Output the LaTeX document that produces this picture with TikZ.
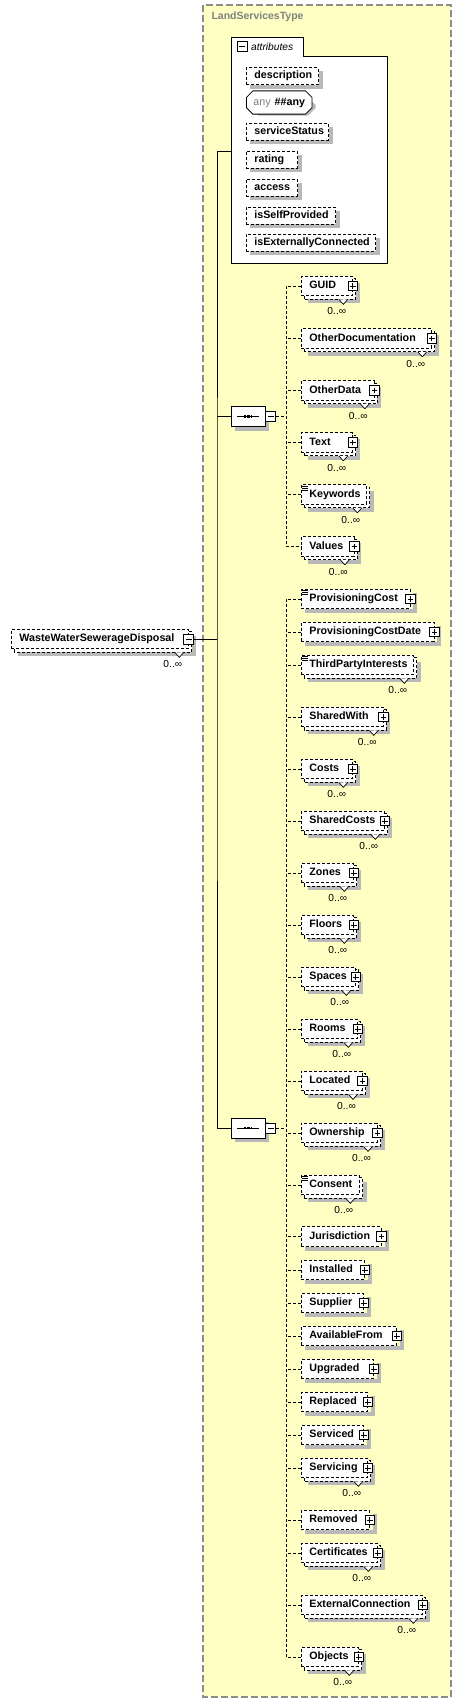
\documentclass[tikz,border=0pt]{standalone}
\usepackage{fontspec}
\setmainfont{Liberation Sans}
\usepackage{tikz}
\usetikzlibrary{shapes.misc,calc}
\pgfdeclarelayer{typelayer}
\pgfdeclarelayer{shadelayer}
\pgfsetlayers{typelayer,shadelayer,main}
\definecolor{typebg}{RGB}{255,255,196}
\definecolor{typeline}{RGB}{140,140,140}
\definecolor{dropgray}{RGB}{185,185,185}
\definecolor{anygray}{RGB}{128,128,128}

\begin{document}
\begin{tikzpicture}[x=1pt,y=-1pt,
  elem/.style={draw,dash pattern=on 3pt off 2pt,line width=0.8pt,fill=white,anchor=west,
    minimum height=19.5pt,inner xsep=8pt,inner ysep=0pt,text height=8pt,text depth=2.5pt,
    align=left,font=\fontsize{10.7}{12}\selectfont\bfseries},
  single/.style={elem},
  multi/.style={elem,label={[chev]south east:},label={[mult]south east:0..∞}},
  backbox/.style={fill=white,draw=black,line width=0.8pt,dash pattern=on 3pt off 2pt},
  attr/.style={elem,minimum height=17pt},
  anyshape/.style={chamfered rectangle,chamfered rectangle xsep=3pt,anchor=west,
    minimum height=18pt,minimum width=65pt,inner xsep=4pt},
  anyattr/.style={anyshape,draw,line width=0.8pt,fill=white,
    font=\fontsize{10.7}{12}\selectfont\bfseries},
  plus/.style={label={[plusbox]east:}},
  doc/.style={label={[docicon]north west:}},
  plusbox/.style={draw=black,solid,line width=0.8pt,fill=white,minimum size=9.5pt,
    inner sep=0pt,anchor=center,
    path picture={\draw[solid,line width=0.8pt]
      ([xshift=2pt]path picture bounding box.west) -- ([xshift=-2pt]path picture bounding box.east)
      ([yshift=2pt]path picture bounding box.south) -- ([yshift=-2pt]path picture bounding box.north);}},
  minusbox/.style={draw=black,solid,line width=0.8pt,fill=white,minimum size=10pt,
    inner sep=0pt,anchor=center,
    path picture={\draw[solid,line width=0.8pt]
      ([xshift=2pt]path picture bounding box.west) -- ([xshift=-2pt]path picture bounding box.east);}},
  chev/.style={anchor=north,xshift=-9.5pt,yshift=-3pt,inner sep=0pt,minimum width=9pt,
    minimum height=5pt,
    path picture={\filldraw[solid,fill=white,draw=black,line width=0.7pt]
      (path picture bounding box.north west) -- (path picture bounding box.south)
      -- (path picture bounding box.north east);}},
  mult/.style={anchor=center,xshift=-16pt,yshift=-15pt,inner sep=0pt,
    font=\fontsize{10.2}{12}\selectfont},
  docicon/.style={anchor=north west,xshift=1pt,yshift=-0.5pt,inner sep=0pt,fill=white,
    minimum width=6pt,minimum height=6pt,
    path picture={\draw[solid,line width=0.7pt]
      ([yshift=-0.8pt]path picture bounding box.north west) -- ([yshift=-0.8pt]path picture bounding box.north east)
      (path picture bounding box.west) -- (path picture bounding box.east)
      ([yshift=0.8pt]path picture bounding box.south west) -- ([yshift=0.8pt]path picture bounding box.south east);}},
  seqshape/.style={chamfered rectangle,chamfered rectangle xsep=5pt,minimum width=34pt,
    minimum height=20pt,inner sep=0pt},
  seq/.style={seqshape,draw=black,line width=0.8pt,fill=white,
    path picture={\draw[line width=0.8pt]
      ([xshift=6pt]path picture bounding box.west) -- ([xshift=-6pt]path picture bounding box.east);
      \draw[line width=2.4pt,dash pattern=on 2.4pt off 1.3pt]
      ([xshift=-4.4pt]path picture bounding box.center) -- ([xshift=4.4pt]path picture bounding box.center);}},
  dropring/.style={draw=dropgray,fill=dropgray,line width=4pt},
  dropline/.style={draw=dropgray,line width=4pt,line cap=butt,line join=miter},
  conn/.style={draw,line width=0.9pt},
  dconn/.style={draw,line width=0.8pt,dash pattern=on 3pt off 2pt}]

  \useasboundingbox (0,0) rectangle (462,1703);

  % complex type and attributes frame
  \begin{pgfonlayer}{typelayer}
    \filldraw[fill=typebg,draw=typeline,line width=1.3pt,dash pattern=on 7pt off 3pt]
      (203,5) rectangle (451,1697);
    \filldraw[fill=white,draw=black,line width=0.9pt]
      (231,263) -- (231,37) -- (303,37) -- (303,56) -- (387,56) -- (387,263) -- cycle;
  \end{pgfonlayer}
  \node[anchor=west,text=anygray,font=\fontsize{10.5}{12}\selectfont\bfseries] (typetitle)
    at (208,17) {LandServicesType};

  % attributes
  \node[minusbox] (attrminus) at (242,46.5) {};
  \node[anchor=west,inner sep=0pt,font=\fontsize{10.2}{12}\selectfont\itshape] (attrtitle)
    at (251,46.5) {attributes};
  \node[attr,text width=56pt] (description) at (246,76) {description};
  \node[anyattr] (anyattr) at (246,102.5) {\textcolor{anygray}{\mdseries any}\hspace{4pt}\#\#any};
  \node[attr,text width=66pt] (servicestatus) at (246,131.5) {serviceStatus};
  \node[attr,text width=35pt] (rating) at (246,159.5) {rating};
  \node[attr,text width=35pt] (access) at (246,187.5) {access};
  \node[attr,text width=73pt] (selfprovided) at (246,215.5) {isSelfProvided};
  \node[attr,text width=113pt] (extconnected) at (246,242.5) {isExternallyConnected};
  \coordinate (attrs) at (231,151);

  % root element
  \node[multi,text width=161pt,label={[minusbox,name=rootminus]east:}] (root)
    at (11,639) {WasteWaterSewerageDisposal};

  % sequences
  \node[seq,label={[minusbox,anchor=west,name=seqaminus]east:}] (seqa) at (248,416.5) {};
  \node[seq,label={[minusbox,anchor=west,name=seqbminus]east:}] (seqb) at (248,1128) {};
  \coordinate (bus) at (217,639);
  \coordinate (busa) at (286,416.5);
  \coordinate (busb) at (286,1128);

  % first sequence
  \node[multi,plus,text width=35pt] (guid) at (301,286) {GUID};
  \node[multi,plus,text width=114pt] (otherdoc) at (301,338.5) {OtherDocumentation};
  \node[multi,plus,text width=56.5pt] (otherdata) at (301,390.5) {OtherData};
  \node[multi,plus,text width=35pt] (text) at (301,442.5) {Text};
  \node[multi,doc,text width=49pt] (keywords) at (301,494.5) {Keywords};
  \node[multi,plus,text width=36.5pt] (values) at (301,546.5) {Values};

  % second sequence
  \node[single,doc,plus,text width=92.5pt] (provcost) at (301,599) {ProvisioningCost};
  \node[single,plus,text width=116.5pt] (provcostdate) at (301,632) {ProvisioningCostDate};
  \node[multi,doc,text width=96pt] (thirdparty) at (301,665) {ThirdPartyInterests};
  \node[multi,plus,text width=65.5pt] (sharedwith) at (301,717) {SharedWith};
  \node[multi,plus,text width=35pt] (costs) at (301,769) {Costs};
  \node[multi,plus,text width=67pt] (sharedcosts) at (301,821) {SharedCosts};
  \node[multi,plus,text width=36pt] (zones) at (301,873) {Zones};
  \node[multi,plus,text width=36pt] (floors) at (301,925) {Floors};
  \node[multi,plus,text width=38pt] (spaces) at (301,977) {Spaces};
  \node[multi,plus,text width=40pt] (rooms) at (301,1029) {Rooms};
  \node[multi,plus,text width=44.7pt] (located) at (301,1081) {Located};
  \node[multi,plus,text width=59.7pt] (ownership) at (301,1133) {Ownership};
  \node[multi,doc,text width=42pt] (consent) at (301,1185) {Consent};
  \node[single,plus,text width=63.7pt] (jurisdiction) at (301,1236.5) {Jurisdiction};
  \node[single,plus,text width=47pt] (installed) at (301,1270) {Installed};
  \node[single,plus,text width=46pt] (supplier) at (301,1303) {Supplier};
  \node[single,plus,text width=79pt] (availfrom) at (301,1336) {AvailableFrom};
  \node[single,plus,text width=56pt] (upgraded) at (301,1369) {Upgraded};
  \node[single,plus,text width=50pt] (replaced) at (301,1402) {Replaced};
  \node[single,plus,text width=46pt] (serviced) at (301,1435) {Serviced};
  \node[multi,plus,text width=50pt] (servicing) at (301,1468) {Servicing};
  \node[single,plus,text width=52pt] (removed) at (301,1520) {Removed};
  \node[multi,plus,text width=60pt] (certificates) at (301,1553) {Certificates};
  \node[multi,plus,text width=105pt] (extconn) at (301,1605) {ExternalConnection};
  \node[multi,plus,text width=41pt] (objects) at (301,1657) {Objects};

  % drop shadows and stacked copies
  \begin{pgfonlayer}{shadelayer}
    \foreach \n in {description,servicestatus,rating,access,selfprovided,extconnected}
      \draw[dropline] ($(\n.north east)+(2.5,4)$) |- ($(\n.south west)+(4,2)$);
    \foreach \n in {provcost,provcostdate,jurisdiction,installed,supplier,availfrom,
        upgraded,replaced,serviced,removed}
      \draw[dropline] ($(\n.north east)+(5,4)$) |- ($(\n.south west)+(4,2)$);
    \foreach \n in {root,guid,otherdoc,otherdata,text,keywords,values,thirdparty,
        sharedwith,costs,sharedcosts,zones,floors,spaces,rooms,located,ownership,
        consent,servicing,certificates,extconn,objects}{
      \draw[dropline] ($(\n.north east)+(5,7)$) |- ($(\n.south west)+(7,5)$);
      \filldraw[backbox] ($(\n.south west)+(3,3)$) rectangle ($(\n.north east)+(3,3)$);
    }
    \node[seqshape,dropring,minimum width=30pt,minimum height=16pt] at ($(seqa.center)+(4,4)$) {};
    \node[seqshape,dropring,minimum width=30pt,minimum height=16pt] at ($(seqb.center)+(4,4)$) {};
    \node[anyshape,dropring,anchor=center,minimum width=61pt,minimum height=14pt]
      at ($(anyattr.center)+(4,4)$) {};
  \end{pgfonlayer}

  % solid connectors
  \draw[conn] (rootminus.east) -- (bus);
  \draw[conn] (attrs) -| (bus) |- (seqb.west);
  \draw[conn] (seqa.west) -- (seqa.west -| bus);

  % dashed connectors
  \draw[dconn] (seqaminus.east) -- (busa);
  \draw[dconn] (guid.west) -- (guid.west -| busa) |- (values.west);
  \path[dconn]
    (otherdoc.west) edge (otherdoc.west -| busa)
    (otherdata.west) edge (otherdata.west -| busa)
    (text.west) edge (text.west -| busa)
    (keywords.west) edge (keywords.west -| busa);

  \draw[dconn] (seqbminus.east) -- (busb);
  \draw[dconn] (provcost.west) -- (provcost.west -| busb) |- (objects.west);
  \path[dconn]
    (provcostdate.west) edge (provcostdate.west -| busb)
    (thirdparty.west) edge (thirdparty.west -| busb)
    (sharedwith.west) edge (sharedwith.west -| busb)
    (costs.west) edge (costs.west -| busb)
    (sharedcosts.west) edge (sharedcosts.west -| busb)
    (zones.west) edge (zones.west -| busb)
    (floors.west) edge (floors.west -| busb)
    (spaces.west) edge (spaces.west -| busb)
    (rooms.west) edge (rooms.west -| busb)
    (located.west) edge (located.west -| busb)
    (ownership.west) edge (ownership.west -| busb)
    (consent.west) edge (consent.west -| busb)
    (jurisdiction.west) edge (jurisdiction.west -| busb)
    (installed.west) edge (installed.west -| busb)
    (supplier.west) edge (supplier.west -| busb)
    (availfrom.west) edge (availfrom.west -| busb)
    (upgraded.west) edge (upgraded.west -| busb)
    (replaced.west) edge (replaced.west -| busb)
    (serviced.west) edge (serviced.west -| busb)
    (servicing.west) edge (servicing.west -| busb)
    (removed.west) edge (removed.west -| busb)
    (certificates.west) edge (certificates.west -| busb)
    (extconn.west) edge (extconn.west -| busb);
\end{tikzpicture}
\end{document}
